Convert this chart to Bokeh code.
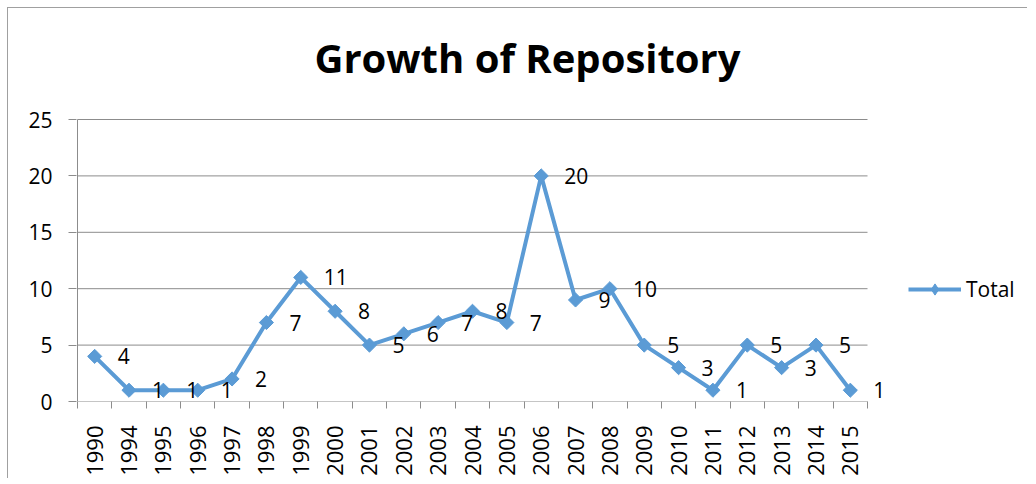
import math
from bokeh.plotting import figure
from bokeh.models import (ColumnDataSource, FixedTicker, LabelSet, Label, Legend, LegendItem)
from bokeh.core.properties import value
from bokeh.embed import file_html
from bokeh.resources import INLINE

years = ["1990", "1994", "1995", "1996", "1997", "1998", "1999", "2000", "2001", "2002",
         "2003", "2004", "2005", "2006", "2007", "2008", "2009", "2010", "2011", "2012",
         "2013", "2014", "2015"]
totals = [4, 1, 1, 1, 2, 7, 11, 8, 5, 6, 7, 8, 7, 20, 9, 10, 5, 3, 1, 5, 3, 5, 1]
y_ticks = [0, 5, 10, 15, 20, 25]
title_text = "Growth of Repository"

FONT = "Open Sans"
BLUE = "#5B9BD5"
GRID = "#8c8c8c"

n = len(years)
y_max = y_ticks[-1]
BANDS_PX = 790          # width occupied by the category bands
PLOT_H_PX = 282         # height occupied by the value axis 0..25
FRAME_W = 951           # frame extended right (legend) and 1px left (axis line)
FRAME_H = 381           # frame extended upwards (title)
px = n / BANDS_PX
x_start = -px
x_end = x_start + FRAME_W * px
y_end = y_max * FRAME_H / PLOT_H_PX

xs = [i + 0.5 for i in range(n)]
src = ColumnDataSource(dict(x=xs, y=totals, lbl=[str(v) for v in totals]))

p = figure(frame_width=FRAME_W, frame_height=FRAME_H, x_range=(x_start, x_end),
           y_range=(0, y_end), output_backend="svg", toolbar_location=None,
           min_border_left=68, min_border_right=0, min_border_top=12, min_border_bottom=75)
p.styles = {"border-top": "1px solid #a0a0a0", "border-left": "1px solid #a0a0a0",
            "margin-left": "7px", "margin-top": "7px"}
p.outline_line_color = None
p.background_fill_color = "white"
p.title = None

# chart title
p.add_layout(Label(x=451, y=344, x_units="screen", y_units="screen", text=title_text,
                   text_align="center", text_baseline="alphabetic", text_font=FONT,
                   text_font_size="40px", text_font_style="bold", text_color="black"))

# horizontal gridlines / x-axis line and the value-axis line, limited to the plot area
p.segment(x0=[0] * len(y_ticks), x1=[n] * len(y_ticks), y0=y_ticks, y1=y_ticks,
          line_color=GRID, line_width=1)
p.segment(x0=[0], x1=[0], y0=[0], y1=[y_max], line_color=GRID, line_width=1)

line = p.line("x", "y", source=src, line_color=BLUE, line_width=4)
pts = p.scatter("x", "y", source=src, marker="square", size=10, angle=math.pi / 4,
                fill_color=BLUE, line_color=BLUE)
# renderer used only for the legend swatch (diamond marker)
leg_pts = p.scatter("x", "y", source=src, marker="diamond", size=10,
                    fill_color=BLUE, line_color=BLUE, visible=False)

labels = LabelSet(x="x", y="y", text="lbl", source=src, x_offset=23, y_offset=0,
                  text_baseline="middle", text_align="left", text_font=value(FONT),
                  text_font_size=value("21px"), text_color="black")
p.add_layout(labels)

# x axis: labels at category centres, tick marks at band boundaries
xa = p.xaxis[0]
xa.ticker = FixedTicker(ticks=xs, minor_ticks=list(range(n + 1)))
xa.major_label_overrides = {x: y for x, y in zip(xs, years)}
xa.major_label_orientation = math.pi / 2
xa.major_tick_line_color = None
xa.major_tick_out = 7
xa.major_tick_in = 0
xa.minor_tick_out = 7
xa.minor_tick_in = 0
xa.minor_tick_line_color = GRID
xa.axis_line_color = None
xa.major_label_standoff = 17
xa.major_label_text_font = FONT
xa.major_label_text_font_size = "22px"
xa.major_label_text_color = "black"

ya = p.yaxis[0]
ya.ticker = FixedTicker(ticks=y_ticks)
ya.major_tick_out = 8
ya.major_tick_in = 0
ya.minor_tick_line_color = None
ya.major_tick_line_color = GRID
ya.axis_line_color = None
ya.major_label_standoff = 16
ya.major_label_text_font = FONT
ya.major_label_text_font_size = "21px"
ya.major_label_text_color = "black"

p.xgrid.grid_line_color = None
p.ygrid.grid_line_color = None

legend = Legend(items=[LegendItem(label="Total", renderers=[line, leg_pts])],
                location=(832, 98), orientation="vertical",
                glyph_width=53, glyph_height=28, label_height=28, padding=0, margin=0,
                spacing=0, label_standoff=5,
                label_text_font=FONT, label_text_font_size="21px", label_text_color="black",
                border_line_color=None, background_fill_alpha=0)
p.add_layout(legend)

open("out.html", "w").write(file_html(p, INLINE))
